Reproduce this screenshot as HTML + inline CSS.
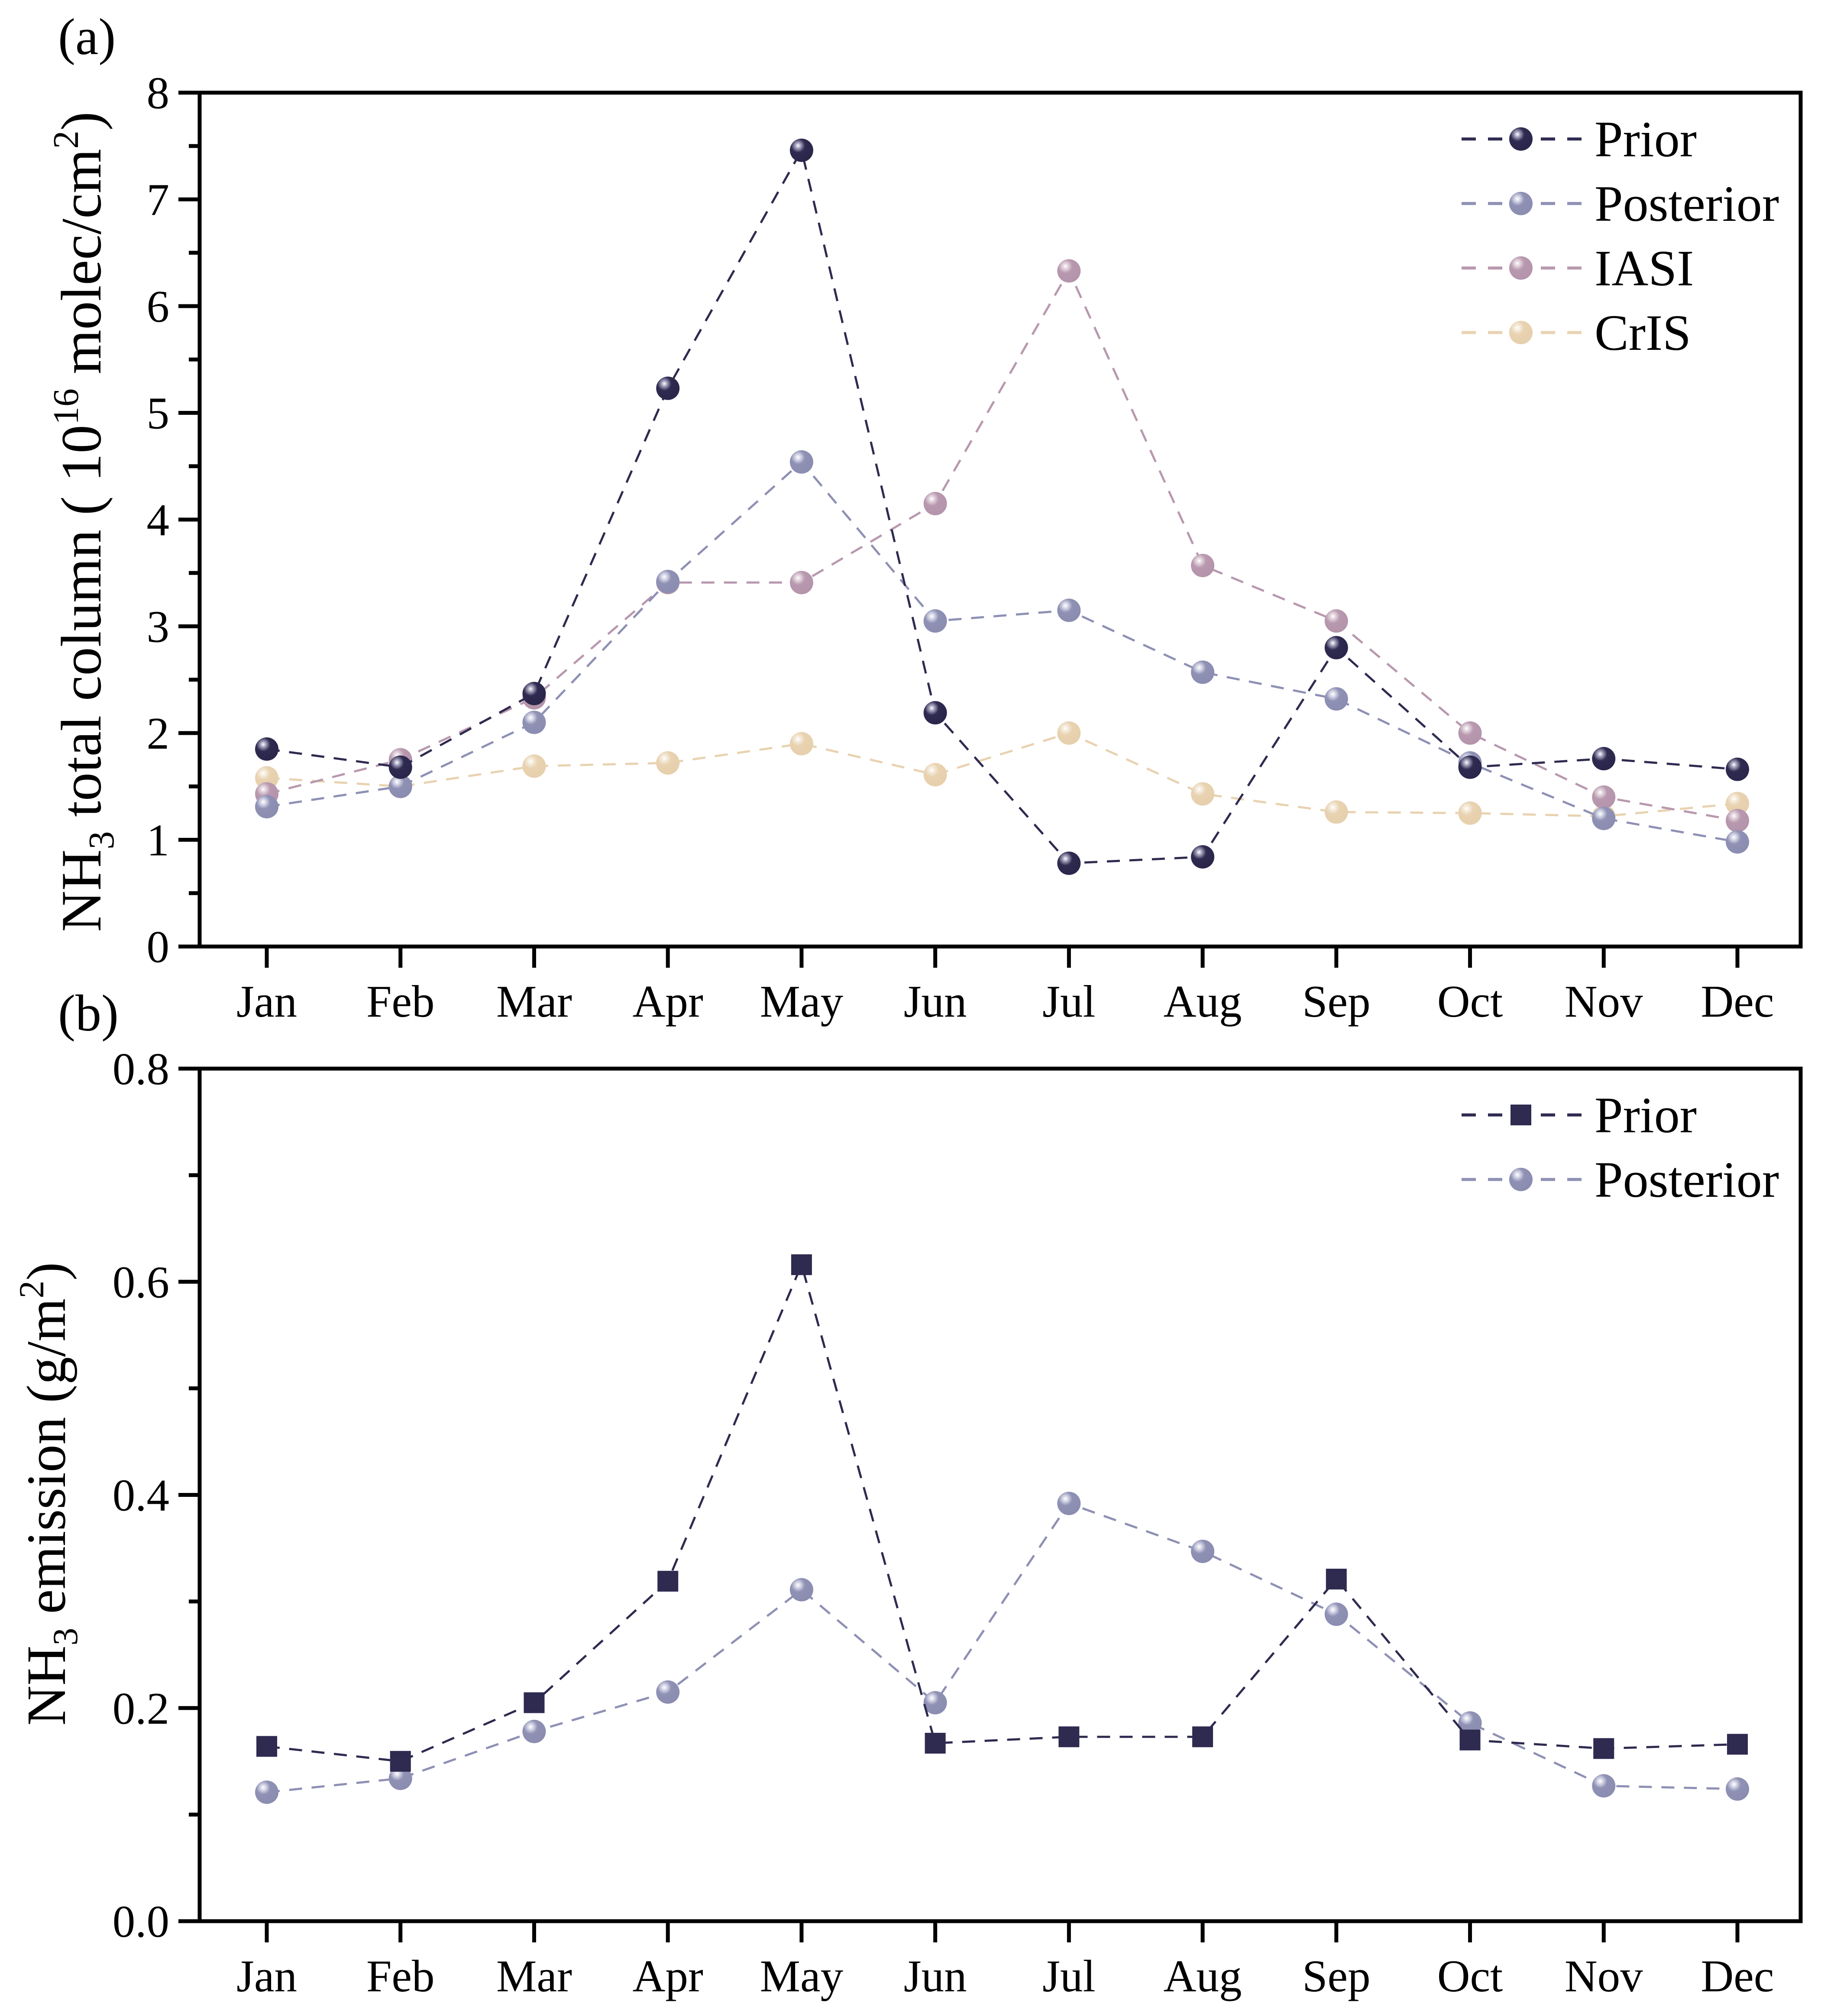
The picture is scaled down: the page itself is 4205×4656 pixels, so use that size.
<!DOCTYPE html>
<html><head><meta charset="utf-8"><style>
html,body{margin:0;padding:0;background:#fff}
svg{display:block}
text{font-family:"Liberation Serif",serif;fill:#000}
</style></head><body>
<svg id="chart" width="4205" height="4656" viewBox="0 0 4205 4656" xmlns="http://www.w3.org/2000/svg">
<defs>
<radialGradient id="gPrior" cx="0.35" cy="0.3" r="0.75"><stop offset="0" stop-color="#fff"/><stop offset="0.15" stop-color="#a8a6c0"/><stop offset="0.4" stop-color="#2e2a50"/><stop offset="1" stop-color="#2a264a"/></radialGradient>
<radialGradient id="gPost" cx="0.35" cy="0.3" r="0.75"><stop offset="0" stop-color="#fff"/><stop offset="0.15" stop-color="#d8d9e8"/><stop offset="0.4" stop-color="#8e90b4"/><stop offset="1" stop-color="#8a8cb0"/></radialGradient>
<radialGradient id="gIasi" cx="0.35" cy="0.3" r="0.75"><stop offset="0" stop-color="#fff"/><stop offset="0.15" stop-color="#e4d6df"/><stop offset="0.4" stop-color="#b898ae"/><stop offset="1" stop-color="#b494aa"/></radialGradient>
<radialGradient id="gCris" cx="0.35" cy="0.3" r="0.75"><stop offset="0" stop-color="#fff"/><stop offset="0.15" stop-color="#f5ecdd"/><stop offset="0.4" stop-color="#e8d2b0"/><stop offset="1" stop-color="#e6cfac"/></radialGradient>
</defs>
<g id="root"></g>
</svg>
<script>
const months = ["Jan","Feb","Mar","Apr","May","Jun","Jul","Aug","Sep","Oct","Nov","Dec"];
const aPrior = [1.85,1.68,2.37,5.23,7.46,2.19,0.78,0.84,2.80,1.68,1.76,1.66];
const aPosterior = [1.31,1.50,2.10,3.42,4.54,3.05,3.15,2.57,2.32,1.72,1.20,0.98];
const aIASI = [1.43,1.75,2.33,3.41,3.41,4.15,6.33,3.57,3.05,2.00,1.40,1.18];
const aCrIS = [1.58,1.50,1.69,1.72,1.90,1.61,2.00,1.43,1.26,1.25,1.22,1.34];
const bPrior = [0.164,0.150,0.205,0.319,0.616,0.167,0.173,0.173,0.321,0.170,0.162,0.166];
const bPosterior = [0.121,0.134,0.178,0.215,0.311,0.205,0.392,0.347,0.288,0.186,0.127,0.124];
const aTicks = ["0","1","2","3","4","5","6","7","8"];
const bTicks = ["0.0","0.2","0.4","0.6","0.8"];

const NS="http://www.w3.org/2000/svg";
const root=document.getElementById('root');
function el(tag,attrs,parent){const e=document.createElementNS(NS,tag);for(const k in attrs)e.setAttribute(k,attrs[k]);(parent||root).appendChild(e);return e;}
const L=461,R=4158,X0=616,XS=(4012-616)/11;
const xS=i=>X0+i*XS;
const cols={prior:"#2e2a50",post:"#8e90b4",iasi:"#b898ae",cris:"#e8d2b0"};

function axes(top,bot,ymax,ticks,minorStep,name){
  const g=el('g',{});
  
  
  const yS=v=>bot-(v/ymax)*(bot-top);
  el('rect',{x:L,y:top,width:R-L,height:bot-top,fill:'none',stroke:'#000','stroke-width':9},g);
  ticks.forEach((t,i)=>{const v=parseFloat(t);const y=yS(v);
    el('line',{x1:L-49,x2:L,y1:y,y2:y,stroke:'#000','stroke-width':9},g);
    const tx=el('text',{x:L-70,y:y+36,'font-size':105,'text-anchor':'end'},g);tx.textContent=t;
    
    
  });
  for(let v=minorStep;v<ymax;v+=minorStep*2){const y=yS(v);el('line',{x1:L-25,x2:L,y1:y,y2:y,stroke:'#000','stroke-width':9},g);}
  months.forEach((m,i)=>{const x=xS(i);
    el('line',{x1:x,x2:x,y1:bot,y2:bot+49,stroke:'#000','stroke-width':9},g);
    const tx=el('text',{x:x,y:bot+162,'font-size':105,'text-anchor':'middle'},g);tx.textContent=m;
    
    
  });
  return yS;
}
function series(vals,yS,color,grad,shape,name){
  const g=el('g',{});
  
  
  const pts=vals.map((v,i)=>xS(i)+','+yS(v)).join(' ');
  el('polyline',{points:pts,fill:'none',stroke:color,'stroke-width':5,'stroke-dasharray':'30 22'},g);
  vals.forEach((v,i)=>{
    let m;
    if(shape==='sq'){m=el('rect',{x:xS(i)-24,y:yS(v)-24,width:48,height:48,fill:color},g);}
    else{m=el('circle',{cx:xS(i),cy:yS(v),r:27,fill:'url(#'+grad+')'},g);}
    
    
  });
}
function legend(items,y0){
  items.forEach((it,k)=>{const y=y0+k*149;
    const g=el('g',{});
    
    
    el('line',{x1:3375,x2:3652,y1:y,y2:y,stroke:it.c,'stroke-width':7,'stroke-dasharray':'33 28'},g);
    if(it.sq)el('rect',{x:3488,y:y-24,width:48,height:48,fill:it.c},g);
    else el('circle',{cx:3512,cy:y,r:27,fill:'url(#'+it.g+')'},g);
    const t=el('text',{x:3682,y:y+40,'font-size':118},g);t.textContent=it.t;
  });
}
// panel a
const yA=axes(214,2186,8,aTicks,0.5,'panel-a');
series(aCrIS,yA,cols.cris,'gCris','c','cris-series');
series(aIASI,yA,cols.iasi,'gIasi','c','iasi-series');
series(aPosterior,yA,cols.post,'gPost','c','posterior-series-a');
series(aPrior,yA,cols.prior,'gPrior','c','prior-series-a');
legend([{t:'Prior',c:cols.prior,g:'gPrior'},{t:'Posterior',c:cols.post,g:'gPost'},{t:'IASI',c:cols.iasi,g:'gIasi'},{t:'CrIS',c:cols.cris,g:'gCris'}],321);
// panel b
const yB=axes(2468,4437,0.8,bTicks,0.1,'panel-b');
series(bPosterior,yB,cols.post,'gPost','c','posterior-series-b');
series(bPrior,yB,cols.prior,'gPrior','sq','prior-series-b');
legend([{t:'Prior',c:cols.prior,sq:true},{t:'Posterior',c:cols.post,g:'gPost'}],2575);
</script>
<svg style="position:absolute;left:0;top:0" width="4205" height="4656" viewBox="0 0 4205 4656">
<text x="134" y="125" font-size="120" style="font-family:'Liberation Serif',serif">(a)</text>
<text x="134" y="2380" font-size="120" style="font-family:'Liberation Serif',serif">(b)</text>
<text transform="translate(232,1205) rotate(-90)" text-anchor="middle" font-size="132" style="font-family:'Liberation Serif',serif">NH<tspan font-size="84" dy="30">3</tspan><tspan dy="-30"> total column ( 10</tspan><tspan font-size="84" dy="-52">16</tspan><tspan dy="52"> molec/cm</tspan><tspan font-size="84" dy="-52">2</tspan><tspan dy="52">)</tspan></text>
<text transform="translate(150,3450) rotate(-90)" text-anchor="middle" font-size="128" style="font-family:'Liberation Serif',serif">NH<tspan font-size="82" dy="28">3</tspan><tspan dy="-28"> emission (g/m</tspan><tspan font-size="82" dy="-50">2</tspan><tspan dy="50">)</tspan></text>
</svg>
</body></html>
